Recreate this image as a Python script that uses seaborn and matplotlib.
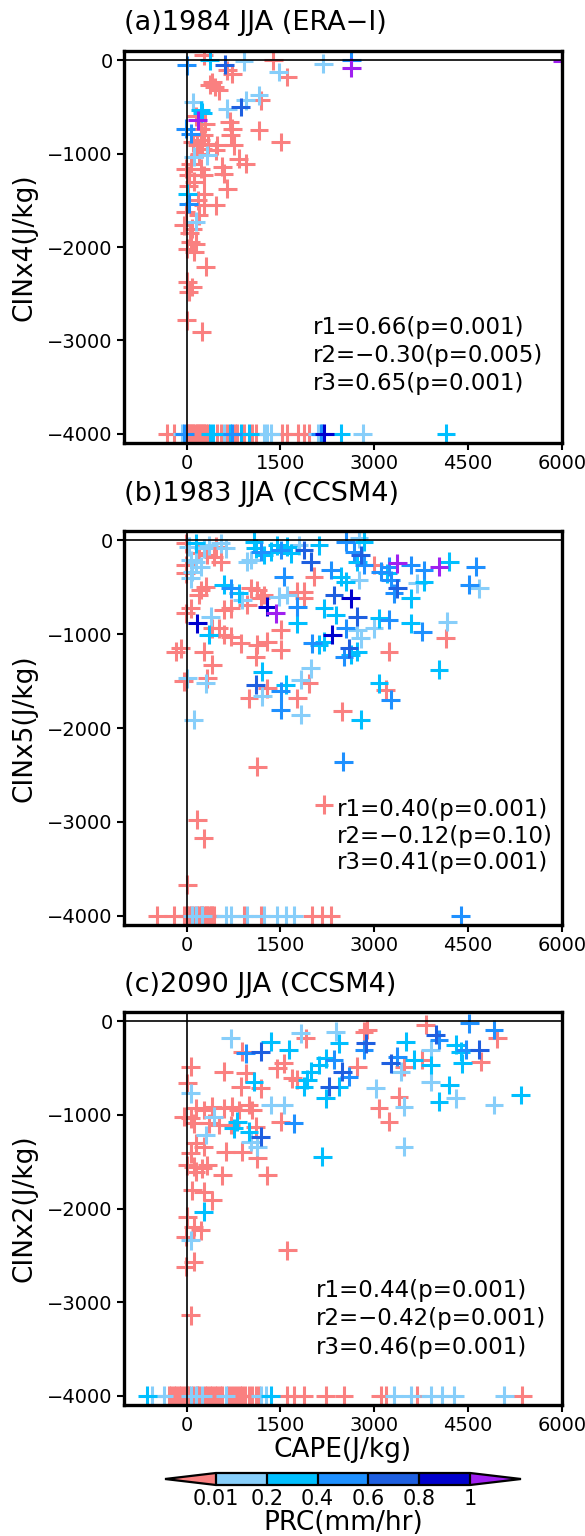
import numpy as np
import pandas as pd
import matplotlib
matplotlib.use("Agg")
import matplotlib as mpl
import matplotlib.pyplot as plt
from matplotlib.colors import ListedColormap, BoundaryNorm
import seaborn as sns

# ---------------- data ----------------
prc_levels = [0.01, 0.2, 0.4, 0.6, 0.8, 1.0]
prc_ticklabels = ["0.01", "0.2", "0.4", "0.6", "0.8", "1"]
prc_colors = ["#FA8080", "#87CEFA", "#00BFFF", "#1E90FF", "#1E5FE0", "#0000CD", "#A020F0"]

x_ticks = [0, 1500, 3000, 4500, 6000]
y_ticks = [0, -1000, -2000, -3000, -4000]

panel_titles = ["(a)1984 JJA (ERA\u2212I)", "(b)1983 JJA (CCSM4)", "(c)2090 JJA (CCSM4)"]
y_labels = ["CINx4(J/kg)", "CINx5(J/kg)", "CINx2(J/kg)"]
x_label = "CAPE(J/kg)"
cbar_label = "PRC(mm/hr)"
stats_a = ["r1=0.66(p=0.001)", "r2=\u22120.30(p=0.005)", "r3=0.65(p=0.001)"]
stats_b = ["r1=0.40(p=0.001)", "r2=\u22120.12(p=0.10)", "r3=0.41(p=0.001)"]
stats_c = ["r1=0.44(p=0.001)", "r2=\u22120.42(p=0.001)", "r3=0.46(p=0.001)"]

# (CAPE, CIN, PRC) points, panel (a)
points_a = [
    (0, -54, 0.5), (277, 53, 0.005), (373, 0, 0.3), (608, -46, 0.7), (917, -11, 0.1),
    (1386, 0, 0.005), (2185, -36, 0.1), (2632, 0, 0.5), (2632, -80, 1.3), (6000, -10, 1.3),
    (1476, -125, 0.1), (1610, -178, 0.005), (650, -107, 0.005), (730, -143, 0.005),
    (410, -232, 0.005), (448, -286, 0.005), (373, -261, 0.005), (517, -321, 0.005),
    (107, -446, 0.1), (224, -536, 0.3), (250, -560, 0.3), (650, -518, 0.1), (864, -500, 0.7),
    (943, -428, 0.1), (1157, -375, 0.1), (1183, -428, 0.005), (181, -643, 1.3),
    (-16, -732, 0.5), (64, -785, 0.5), (693, -660, 0.005), (730, -732, 0.005),
    (704, -803, 0.005), (757, -910, 0.005), (1157, -750, 0.005), (1503, -875, 0.005),
    (224, -732, 0.005), (277, -803, 0.005), (224, -857, 0.005), (250, -946, 0.005),
    (170, -910, 0.005), (490, -910, 0.005), (464, -964, 0.005), (117, -1035, 0.1),
    (330, -1017, 0.1), (837, -1053, 0.005), (943, -1107, 0.005), (-16, -1160, 0.005),
    (37, -1232, 0.005), (64, -1107, 0.005), (224, -1160, 0.005), (277, -1232, 0.005),
    (570, -1142, 0.005), (597, -1214, 0.005), (650, -1375, 0.005), (10, -1428, 0.3),
    (37, -1535, 0.5), (277, -1428, 0.005), (277, -1553, 0.005), (464, -1553, 0.005),
    (-16, -1624, 0.005), (197, -1660, 0.005), (144, -1731, 0.1), (-43, -1767, 0.005),
    (90, -1803, 0.005), (64, -1946, 0.005), (10, -2017, 0.005), (144, -1963, 0.005),
    (304, -2213, 0.005), (10, -2374, 0.005), (90, -2428, 0.005), (37, -2481, 0.005),
    (0, -2785, 0.005), (240, -2910, 0.005), (150, -600, 0.005), (300, -680, 0.005),
    (200, -1000, 0.005), (100, -880, 0.005), (350, -900, 0.005), (120, -1300, 0.005),
    (30, -1350, 0.005), (180, -1500, 0.005), (50, -1850, 0.005), (120, -2050, 0.005),
]
# points lying on the -4000 floor, panel (a): CAPE and PRC
floor_cape_a = [-307, -200, 13, 40, 60, 85, 110, 135, 160, 185, 210, 235, 260, 285, 307, 340,
                480, 546, 640, 780, 813, 920, 1053, 1106, 1533, 1613, 1773, 1880, 1960,
                -67, 600, 1240, 1293, 1346, 2093, 2170, 2813,
                376, 430, 696, 866, 1000, 2466, 4146,
                -40, 733, 2146, 2200]
floor_prc_a = [0.005] * 29 + [0.1] * 8 + [0.3] * 7 + [0.5] * 3 + [0.9]

points_b = [
    (-16, -32, 0.005), (37, -67, 0.1), (144, -32, 0.3), (277, -85, 0.1), (357, -50, 0.1),
    (464, -67, 0.005), (544, -32, 0.1), (624, -85, 0.1), (197, -138, 0.005), (330, -156, 0.005),
    (64, -209, 0.1), (-16, -262, 0.005), (437, -174, 0.005), (544, -227, 0.005),
    (1077, -14, 0.3), (1103, -85, 0.3), (1183, -121, 0.5), (1023, -209, 0.1), (970, -227, 0.1),
    (1237, -156, 0.3), (1343, -121, 0.3), (1450, -50, 0.3), (1503, -103, 0.5), (1610, -67, 0.3),
    (1663, -138, 0.3), (1796, -50, 0.1), (1876, -103, 0.7), (1983, -227, 0.7), (2116, -50, 0.3),
    (2542, -14, 0.5), (2756, 21, 0.1), (2836, -14, 0.3), (2676, -121, 0.5), (2782, -156, 0.7),
    (2729, -227, 0.3), (2836, -262, 0.5), (2996, -262, 0.005), (3235, -280, 0.5),
    (3369, -245, 1.3), (3582, -262, 0.5), (3795, -316, 0.5), (4035, -280, 1.3), (4195, -227, 0.3),
    (4621, -280, 0.5), (1556, -387, 0.5), (2036, -387, 0.005), (2303, -316, 0.5),
    (2462, -387, 0.3), (2542, -440, 0.3), (2756, -422, 0.1), (64, -404, 0.1), (91, -333, 0.1),
    (-16, -351, 0.005), (224, -280, 0.1), (144, -227, 0.1), (597, -475, 0.3), (704, -511, 0.5),
    (837, -564, 0.3), (890, -635, 0.1), (1023, -511, 0.005), (1130, -529, 0.005),
    (224, -529, 0.005), (304, -493, 0.005), (197, -582, 0.005), (970, -688, 0.005),
    (704, -724, 0.005), (597, -741, 0.005), (1183, -617, 0.005), (1237, -582, 0.005),
    (1290, -706, 0.9), (1423, -777, 1.3), (1476, -599, 0.1), (1610, -582, 0.1), (1770, -706, 0.5),
    (1770, -546, 0.005), (1876, -546, 0.005), (1876, -617, 0.005), (2356, -582, 0.7),
    (2622, -617, 0.9), (3102, -333, 0.5), (3209, -351, 0.3), (3262, -422, 0.5), (3369, -511, 0.7),
    (3315, -564, 0.5), (3582, -617, 0.3), (3688, -458, 0.1), (3795, -440, 0.3), (4515, -475, 0.5),
    (4675, -511, 0.1), (64, -724, 0.005), (-16, -777, 0.005), (171, -883, 0.9), (384, -812, 0.1),
    (410, -936, 0.005), (517, -936, 0.005), (357, -1007, 0.3), (597, -1007, 0.005),
    (704, -1025, 0.005), (2196, -724, 0.3), (2383, -795, 0.3), (1770, -883, 0.3),
    (2542, -936, 0.5), (2729, -812, 0.7), (3075, -830, 0.3), (3235, -848, 0.5), (3582, -883, 0.3),
    (3768, -972, 0.5), (4168, -865, 0.1), (2729, -954, 0.1), (2782, -1043, 0.1), (2996, -936, 0.1),
    (2329, -1007, 0.9), (2196, -1078, 0.3), (2009, -1096, 0.5), (2116, -1114, 0.3),
    (2596, -1149, 0.7), (2622, -1220, 0.3), (2516, -1238, 0.5), (2729, -1185, 0.3),
    (4141, -1043, 0.005), (-96, -1149, 0.005), (-176, -1185, 0.005), (277, -1185, 0.005),
    (863, -1096, 0.005), (1130, -1114, 0.005), (1290, -1078, 0.005), (1503, -1167, 0.005),
    (1103, -1238, 0.005), (1503, -954, 0.005), (410, -1327, 0.005), (3235, -1185, 0.005),
    (4035, -1380, 0.3), (1210, -1398, 0.3), (1983, -1362, 0.1), (11, -1468, 0.1),
    (-43, -1504, 0.005), (330, -1468, 0.005), (304, -1522, 0.1), (1103, -1539, 0.7),
    (1290, -1575, 0.005), (1583, -1539, 0.3), (1503, -1610, 0.5), (1823, -1486, 0.1),
    (1956, -1522, 0.005), (997, -1681, 0.005), (1210, -1663, 0.1), (1503, -1805, 0.5),
    (1770, -1681, 0.005), (1823, -1859, 0.1), (2489, -1823, 0.005), (2782, -1912, 0.3),
    (117, -1912, 0.1), (3075, -1522, 0.3), (3182, -1593, 0.005), (3262, -1699, 0.5),
    (1130, -2412, 0.005), (2505, -2358, 0.5), (2196, -2820, 0.005), (170, -2979, 0.005),
    (277, -3174, 0.005), (10, -3671, 0.005),
]
floor_cape_b = [-469, -203, -43, 0, 37, 70, 120, 170, 197, 230, 250, 280, 304, 330, 357, 385,
                410, 437, 917, 1183, 2010, 2170, 2303,
                90, 144, 250, 624, 704, 970, 1237, 1450, 1583, 1716,
                4381]
floor_prc_b = [0.005] * 23 + [0.1] * 10 + [0.5]

points_c = [
    (704, -180, 0.1), (890, -323, 0.005), (943, -341, 0.5), (1183, -323, 0.7), (1343, -216, 0.3),
    (1636, -305, 0.3), (1823, -127, 0.1), (1903, -180, 0.005), (2383, -109, 0.1),
    (2436, -234, 0.3), (2836, -109, 0.005), (2889, -91, 0.005), (2862, -234, 0.7),
    (2836, -305, 0.5), (2729, -483, 0.005), (3502, -216, 0.3), (3822, -37, 0.005),
    (3982, -144, 0.7), (4035, -198, 0.5), (4515, -20, 0.5), (4914, -91, 0.5), (4968, -180, 0.005),
    (4301, -251, 0.3), (4381, -323, 0.3), (4461, -305, 0.5), (4675, -305, 0.7),
    (4701, -430, 0.005), (4408, -448, 0.3), (3902, -305, 0.1), (3635, -412, 0.3),
    (3902, -466, 0.3), (3262, -448, 0.7), (3369, -376, 0.5), (3475, -483, 0.005),
    (3422, -537, 0.1), (3768, -412, 0.005), (2223, -394, 0.3), (2356, -412, 0.5),
    (2489, -537, 0.7), (2596, -590, 0.5), (2116, -466, 0.3), (1983, -537, 0.3), (1930, -626, 0.3),
    (1876, -697, 0.3), (1770, -626, 0.005), (1690, -608, 0.005), (2276, -697, 0.7),
    (2436, -697, 0.3), (2223, -822, 0.3), (1450, -501, 0.005), (1556, -448, 0.005),
    (943, -555, 0.005), (1077, -644, 0.3), (1183, -715, 0.005), (864, -697, 0.005),
    (597, -537, 0.005), (64, -483, 0.005), (11, -662, 0.005), (64, -769, 0.1), (3022, -715, 0.1),
    (4195, -680, 0.3), (4301, -822, 0.1), (3902, -644, 0.1), (4035, -858, 0.3),
    (3395, -804, 0.005), (3475, -911, 0.1), (3075, -929, 0.005), (3235, -1072, 0.005),
    (4914, -894, 0.1), (5341, -787, 0.3), (144, -929, 0.005), (277, -947, 0.005),
    (410, -911, 0.005), (597, -929, 0.005), (730, -911, 0.005), (837, -947, 0.005),
    (997, -894, 0.005), (1050, -947, 0.005), (1343, -894, 0.1), (1556, -894, 0.1),
    (64, -1036, 0.005), (117, -1090, 0.005), (-43, -1018, 0.005), (437, -1018, 0.1),
    (357, -1090, 0.005), (517, -1108, 0.005), (704, -1108, 0.005), (757, -1143, 0.3),
    (810, -1072, 0.3), (997, -1179, 0.3), (1103, -1125, 0.005), (1183, -1232, 0.7),
    (1023, -1286, 0.1), (1130, -1340, 0.1), (1503, -1072, 0.005), (1716, -1090, 0.5),
    (1130, -1464, 0.005), (1290, -1643, 0.005), (304, -1215, 0.1), (144, -1304, 0.005),
    (277, -1340, 0.005), (64, -1411, 0.005), (11, -1536, 0.005), (117, -1554, 0.005),
    (250, -1571, 0.005), (330, -1536, 0.005), (144, -1607, 0.005), (570, -1643, 0.005),
    (624, -1393, 0.005), (890, -1393, 0.005), (91, -1803, 0.005), (277, -1821, 0.005),
    (410, -1910, 0.005), (2169, -1446, 0.3), (3475, -1340, 0.1),
    (277, -2035, 0.3), (11, -2088, 0.005), (117, -2195, 0.005), (224, -2231, 0.005),
    (-16, -2302, 0.005), (64, -2338, 0.1), (1610, -2445, 0.005), (117, -2570, 0.005),
    (-16, -2624, 0.005), (64, -3140, 0.005),
]
floor_cape_c = [-283, -243, -203, -163, -123, -83, -43, 0, 40, 100, 160, 200, 290, 330, 370, 410,
                450, 490, 530, 570, 660, 704, 750, 810, 850, 890, 940, 997, 1050, 1103, 1150,
                1610, 1716, 1876, 2223, 2516, 3102, 3182, 3688, 5367,
                -549, -363, 64, 144, 250, 624, 1183, 1263, 3315, 3582, 3902, 4088, 4275, 5074,
                -629, 1343]
floor_prc_c = [0.005] * 40 + [0.1] * 14 + [0.3] * 2
floor_cin = -4000

# ---------------- style ----------------
sns.set_theme(style="ticks")
plt.rcParams["font.family"] = ["DejaVu Sans"]
plt.rcParams["text.color"] = "black"
plt.rcParams["xtick.color"] = "black"
plt.rcParams["ytick.color"] = "black"
plt.rcParams["axes.edgecolor"] = "black"

W, H = 585, 1536
fig = plt.figure(figsize=(W / 100, H / 100), dpi=100)
fig.patch.set_facecolor("white")

palette = dict(enumerate(prc_colors))


def make_df(points, floor_cape, floor_prc):
    d1 = pd.DataFrame(points, columns=["cape", "cin", "prc"])
    d2 = pd.DataFrame({"cape": floor_cape, "cin": [floor_cin] * len(floor_cape), "prc": floor_prc})
    df = pd.concat([d1, d2], ignore_index=True)
    df["cls"] = np.digitize(df["prc"].values, prc_levels)
    return df.sort_values("cls", kind="stable")


panels = [
    (points_a, floor_cape_a, floor_prc_a, stats_a, 2024, [-2860, -3160, -3460]),
    (points_b, floor_cape_b, floor_prc_b, stats_b, 2408, [-2873, -3160, -3436]),
    (points_c, floor_cape_c, floor_prc_c, stats_c, 2067, [-2873, -3173, -3483]),
]
frames_px = [(51, 443), (531, 925), (1012, 1405)]
title_py = [23, 494, 985]
left_px, right_px = 124, 562

for i, (pts, fc, fp, stats, sx, sys_) in enumerate(panels):
    top, bot = frames_px[i]
    ax = fig.add_axes([left_px / W, 1 - bot / H, (right_px - left_px) / W, (bot - top) / H])
    df = make_df(pts, fc, fp)
    sns.scatterplot(data=df, x="cape", y="cin", hue="cls", palette=palette,
                    hue_order=list(range(7)), marker="+", s=185, linewidth=2.2,
                    legend=False, ax=ax, zorder=2)
    ax.set_xlim(-1000, 6000)
    ax.set_ylim(-4100, 100)
    ax.axhline(0, color="black", lw=1.2, zorder=3)
    ax.axvline(0, color="black", lw=1.2, zorder=3)
    ax.set_xticks(x_ticks)
    ax.set_yticks(y_ticks)
    ax.tick_params(direction="out", length=5, width=1.5, labelsize=14, pad=3,
                   bottom=True, left=True, top=False, right=False)
    for sp in ax.spines.values():
        sp.set_visible(True)
        sp.set_linewidth(2.4)
        sp.set_color("black")
    ax.set_xlabel("")
    ax.set_ylabel("")
    for t, yy in zip(stats, sys_):
        ax.text(sx, yy, t, ha="left", va="center", fontsize=16.5, zorder=4)
    fig.text(left_px / W, 1 - title_py[i] / H, panel_titles[i], ha="left", va="center", fontsize=19.5)
    fig.text(25 / W, 1 - ((top + bot) / 2) / H, y_labels[i], rotation=90,
             ha="center", va="center", fontsize=19)

fig.text(343 / W, 1 - 1450 / H, x_label, ha="center", va="center", fontsize=19)

# ---------------- colour bar ----------------
cax = fig.add_axes([165 / W, 1 - 1485 / H, 356 / W, 12 / H])
cmap = ListedColormap(prc_colors[1:-1])
cmap.set_under(prc_colors[0])
cmap.set_over(prc_colors[-1])
norm = BoundaryNorm(prc_levels, cmap.N)
cb = mpl.colorbar.ColorbarBase(cax, cmap=cmap, norm=norm, orientation="horizontal",
                               extend="both", extendfrac=0.2, drawedges=True,
                               ticks=prc_levels)
cb.set_ticklabels(prc_ticklabels)
cb.outline.set_linewidth(1.6)
cb.outline.set_edgecolor("black")
cb.dividers.set_linewidth(1.6)
cb.dividers.set_color("black")
cax.tick_params(length=0, labelsize=15, pad=3)
fig.text(343 / W, 1 - 1523 / H, cbar_label, ha="center", va="center", fontsize=19)

fig.savefig("out.png", dpi=100, facecolor="white")
